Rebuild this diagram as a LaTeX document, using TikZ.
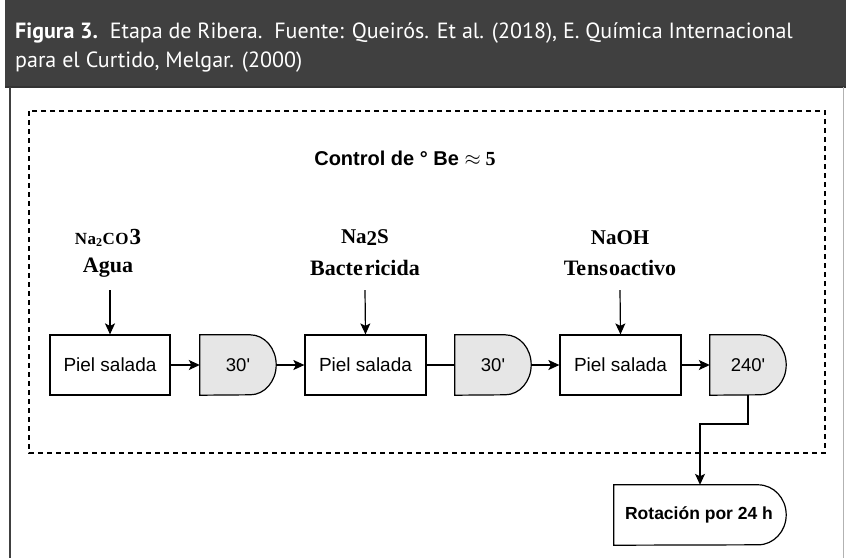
\documentclass[tikz,border=0pt]{standalone}
\usepackage{fontspec}
\setmainfont{Liberation Sans}
\newfontfamily\hdrfont{PT Sans}
\newfontfamily\serifb{Liberation Serif}
\usetikzlibrary{arrows.meta}
\definecolor{hdr}{HTML}{404040}
\definecolor{delayfill}{HTML}{E6E6E6}
\tikzset{
  proc/.style={draw, line width=1.2pt, minimum width=121pt, minimum height=60pt, inner sep=0pt, font=\fontsize{19}{21}\selectfont},
  dlybox/.style={minimum width=76pt, minimum height=60pt, inner sep=0pt},
  dlytext/.style={inner sep=0pt, font=\fontsize{18.5}{21}\selectfont},
  lbl/.style={inner sep=0pt, font=\serifb\bfseries\fontsize{22}{24}\selectfont},
  hdrline/.style={anchor=base west, inner sep=0pt, text=white, font=\hdrfont\fontsize{22}{26}\selectfont},
  flow/.style={line width=1.2pt, -{Stealth[length=11pt,width=10pt,inset=2.5pt]}},
  plain/.style={line width=1.2pt},
}
\newcommand{\dlyshape}[3]{% node, x radius, fill
  \draw[line width=1.2pt, fill=#3] (#1.south west) -- (#1.north west) -- ([xshift=-#2]#1.north east)
    arc[start angle=90, end angle=-90, x radius=#2, y radius=30pt] -- cycle;
}
\begin{document}
\begin{tikzpicture}[x=1pt,y=-1pt]
\useasboundingbox (0,0) rectangle (846,558);
\fill[white] (0,0) rectangle (846,558);
% header
\fill[hdr] (5,0) rectangle (846,87);
\draw[line width=2pt, black!80] (5,87) -- (846,87);
\draw[line width=2.5pt, hdr] (10,87) -- (10,558);
\draw[line width=1pt, black!30] (843.5,87) -- (843.5,558);
\node[hdrline] (hdr1) at (15,38)
  {\textbf{Figura 3.}\ \ Etapa de Ribera.\ \ Fuente: Queirós. Et al. (2018), E. Química Internacional};
\node[hdrline] (hdr2) at (15,67) {para el Curtido, Melgar. (2000)};
% dashed frame
\draw[line width=1.1pt, dash pattern=on 5pt off 4pt] (29,111) rectangle (825,453);
\node[inner sep=0pt, font=\bfseries\fontsize{20}{22}\selectfont] (ctrl) at (405,158) {Control de \textdegree{} Be {\serifb$\approx$ 5}};
% labels
\node[lbl] (l1a) at (108,238) {\fontsize{17}{18}\selectfont N\kern0.5pt a\raisebox{-2pt}{\fontsize{12}{12}\selectfont 2}\kern0.5pt C\kern0.5pt O\kern1pt{\fontsize{23}{23}\selectfont 3}};
\node[lbl] (l1b) at (108,268) {Agua};
\node[lbl] (l2a) at (365,238) {\fontsize{21}{22}\selectfont Na\raisebox{-2pt}{2}S};
\node[lbl] (l2b) at (365,268) {Bacte\kern2pt ricida};
\node[lbl] (l3a) at (620,238) {\fontsize{21}{22}\selectfont NaOH};
\node[lbl] (l3b) at (620,268) {Te\kern1pt ns\kern1pt oactivo};
\coordinate (a1) at (110,290);
\coordinate (a2) at (365,290);
\coordinate (a3) at (620,290);
% process boxes
\node[proc, minimum width=120pt] (p1) at (110,365) {Piel salada};
\node[dlybox] (d1) at (238,365) {};
\node[proc] (p2) at (365.5,365) {Piel salada};
\node[dlybox] (d2) at (493,365) {};
\node[proc] (p3) at (620.5,365) {Piel salada};
\node[dlybox] (d3) at (748,365) {};
\dlyshape{d1}{26pt}{delayfill}
\dlyshape{d2}{26pt}{delayfill}
\dlyshape{d3}{26pt}{delayfill}
\node[dlytext] (t1) at (d1) {30\textquotesingle};
\node[dlytext] (t2) at (d2) {30\textquotesingle};
\node[dlytext] (t3) at (d3) {240\textquotesingle};
% final
\node[minimum width=172pt, minimum height=60pt, inner sep=0pt] (rot) at (700,515) {};
\dlyshape{rot}{28pt}{white}
\node[inner sep=0pt, font=\bfseries\fontsize{17.5}{20}\selectfont] (rott) at ([xshift=-1pt]rot.center) {Rotación por 24 h};
% connectors
\draw[flow] (a1) -- (p1.north);
\draw[flow] (a2) -- (p2.north);
\draw[flow] (a3) -- (p3.north);
\draw[flow] (p1) -- (d1);
\draw[flow] (d1.east) -- (p2);
\draw[plain] (p2) -- (d2);
\draw[flow] (d2.east) -- (p3);
\draw[flow] (p3) -- (d3);
\coordinate (b1) at (748,424);
\draw[flow] (d3.south) -- (b1) -- (rot.north |- b1) -- (rot.north);
\end{tikzpicture}
\end{document}
